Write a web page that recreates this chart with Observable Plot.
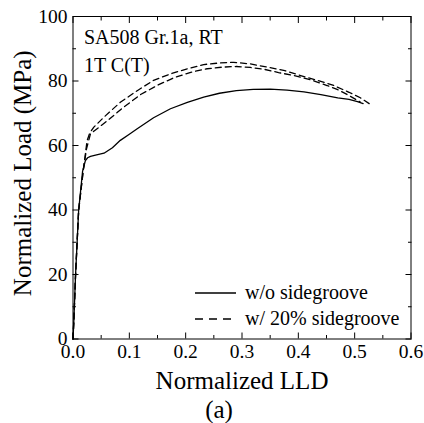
<!DOCTYPE html>
<html><head><meta charset="utf-8">
<script src="https://cdn.jsdelivr.net/npm/d3@7"></script>
<script src="https://cdn.jsdelivr.net/npm/@observablehq/plot@0.6"></script>
<style>
body{margin:0;background:#fff;}
#wrap{position:relative;width:424px;height:423px;}
#legend{position:absolute;left:0;top:0;width:424px;height:423px;pointer-events:none;}
svg text{font-family:'Liberation Serif','Times New Roman',serif;}
</style>
</head><body><div id="wrap"><div id="chart"></div><svg id="legend" width="424" height="423"></svg></div>
<script>
// ---- data ----
const solidX = [0, 0.0015, 0.0045, 0.010, 0.017, 0.022, 0.026, 0.031, 0.04, 0.055, 0.07, 0.084, 0.1, 0.114, 0.143, 0.173, 0.203, 0.232, 0.26, 0.29, 0.32, 0.35, 0.38, 0.41, 0.44, 0.47, 0.49, 0.505, 0.515];
const solidY = [0, 5.7, 19.7, 39.8, 52, 55.3, 56.2, 56.6, 57, 57.6, 59.3, 61.6, 63.5, 65.2, 68.6, 71.4, 73.4, 75.0, 76.2, 77.0, 77.4, 77.5, 77.2, 76.6, 75.8, 74.8, 74.3, 73.6, 73.0];

const dashAX = [0, 0.0015, 0.0045, 0.010, 0.018, 0.025, 0.03, 0.037, 0.055, 0.084, 0.114, 0.143, 0.173, 0.203, 0.232, 0.26, 0.285, 0.315, 0.345, 0.374, 0.404, 0.434, 0.463, 0.49, 0.51, 0.53];
const dashAY = [0, 5.7, 19.7, 39.8, 52, 61.5, 64, 65.7, 68.8, 73.4, 77, 80.2, 82.2, 83.8, 85.1, 85.6, 85.8, 85.3, 84.3, 83.3, 81.7, 80.2, 78.6, 76.5, 74.8, 72.5];

const dashBX = [0, 0.0015, 0.0045, 0.010, 0.018, 0.024, 0.031, 0.061, 0.09, 0.12, 0.149, 0.179, 0.209, 0.238, 0.265, 0.29, 0.315, 0.34, 0.365, 0.392, 0.422, 0.451, 0.47, 0.49, 0.51];
const dashBY = [0, 5.7, 19.7, 39.8, 52, 59, 63.6, 67.7, 71.9, 75.8, 78.6, 81, 82.7, 83.8, 84.3, 84.5, 84.2, 83.6, 82.6, 81.7, 80.4, 78.6, 77.3, 75.5, 73.5];

const xTicks = [0, 0.1, 0.2, 0.3, 0.4, 0.5, 0.6];
const xMinor = [0.05, 0.15, 0.25, 0.35, 0.45, 0.55];
const yTicks = [0, 20, 40, 60, 80, 100];
const yMinor = [10, 30, 50, 70, 90];

const seriesNames = ["w/o sidegroove", "w/ 20% sidegroove"];
const annotation = ["SA508 Gr.1a, RT", "1T C(T)"];
const xTitle = "Normalized LLD";
const yTitle = "Normalized Load (MPa)";
const caption = "(a)";

const toRows = (xs, ys) => xs.map((x, i) => ({x, y: ys[i]}));
const solid = toRows(solidX, solidY);
const dashA = toRows(dashAX, dashAY);
const dashB = toRows(dashBX, dashBY);

const FONT = "'Liberation Serif', 'Times New Roman', serif";

const chart = Plot.plot({
  width: 424,
  height: 423,
  marginTop: 16,
  marginBottom: 84.5,
  marginLeft: 72.5,
  marginRight: 13.5,
  style: {fontFamily: FONT, fontSize: "19.5px", color: "black", background: "white"},
  x: {domain: [0, 0.6]},
  y: {domain: [0, 100]},
  marks: [
    Plot.line(solid, {x: "x", y: "y", stroke: "black", strokeWidth: 1.3}),
    Plot.line(dashA, {x: "x", y: "y", stroke: "black", strokeWidth: 1.3, strokeDasharray: "6,4"}),
    Plot.line(dashB, {x: "x", y: "y", stroke: "black", strokeWidth: 1.3, strokeDasharray: "6,4"}),
    Plot.frame({stroke: "black", strokeWidth: 1}),
    // tick labels
    Plot.axisX({anchor: "bottom", ticks: xTicks, tickSize: 0, tickPadding: 5, tickFormat: d3.format(".1f"), label: null, fontFamily: FONT}),
    Plot.axisY({anchor: "left", ticks: yTicks, tickSize: 0, tickPadding: 5.5, label: null, fontFamily: FONT}),
    // inward major ticks
    Plot.axisX({anchor: "bottom", ticks: xTicks, tickSize: -6, text: null, label: null}),
    Plot.axisX({anchor: "top", ticks: xTicks, tickSize: -6, text: null, label: null}),
    Plot.axisY({anchor: "left", ticks: yTicks, tickSize: -6, text: null, label: null}),
    Plot.axisY({anchor: "right", ticks: yTicks, tickSize: -6, text: null, label: null}),
    // inward minor ticks
    Plot.axisX({anchor: "bottom", ticks: xMinor, tickSize: -3.5, text: null, label: null}),
    Plot.axisX({anchor: "top", ticks: xMinor, tickSize: -3.5, text: null, label: null}),
    Plot.axisY({anchor: "left", ticks: yMinor, tickSize: -3.5, text: null, label: null}),
    Plot.axisY({anchor: "right", ticks: yMinor, tickSize: -3.5, text: null, label: null}),
    // annotation
    Plot.text([annotation[0]], {frameAnchor: "top-left", text: d => d, dx: 11, dy: 21, lineAnchor: "middle", textAnchor: "start", fontSize: 20, fill: "black", fontFamily: FONT}),
    Plot.text([annotation[1]], {frameAnchor: "top-left", text: d => d, dx: 11, dy: 49, lineAnchor: "middle", textAnchor: "start", fontSize: 20, fill: "black", fontFamily: FONT}),
    // titles
    Plot.text([xTitle], {frameAnchor: "bottom", text: d => d, dy: 42, lineAnchor: "middle", fontSize: 25, fill: "black", fontFamily: FONT}),
    Plot.text([caption], {frameAnchor: "bottom", text: d => d, dx: -23, dy: 71, lineAnchor: "middle", fontSize: 25, fill: "black", fontFamily: FONT}),
    Plot.text([yTitle], {frameAnchor: "left", text: d => d, dx: -50, dy: -4.5, rotate: -90, textAnchor: "middle", lineAnchor: "middle", fontSize: 25, fill: "black", fontFamily: FONT})
  ]
});
document.getElementById("chart").appendChild(chart);

// legend (overlay)
const lg = d3.select("#legend");
const rows = [{name: seriesNames[0], dash: null, y: 293}, {name: seriesNames[1], dash: "8,6", y: 319}];
rows.forEach(r => {
  lg.append("line").attr("x1", 195).attr("x2", 236).attr("y1", r.y).attr("y2", r.y)
    .attr("stroke", "black").attr("stroke-width", 1.3).attr("stroke-dasharray", r.dash);
  lg.append("text").attr("x", 245).attr("y", r.y).attr("dy", "0.32em")
    .attr("font-size", 20).attr("fill", "black").text(r.name);
});
</script>
</body></html>
